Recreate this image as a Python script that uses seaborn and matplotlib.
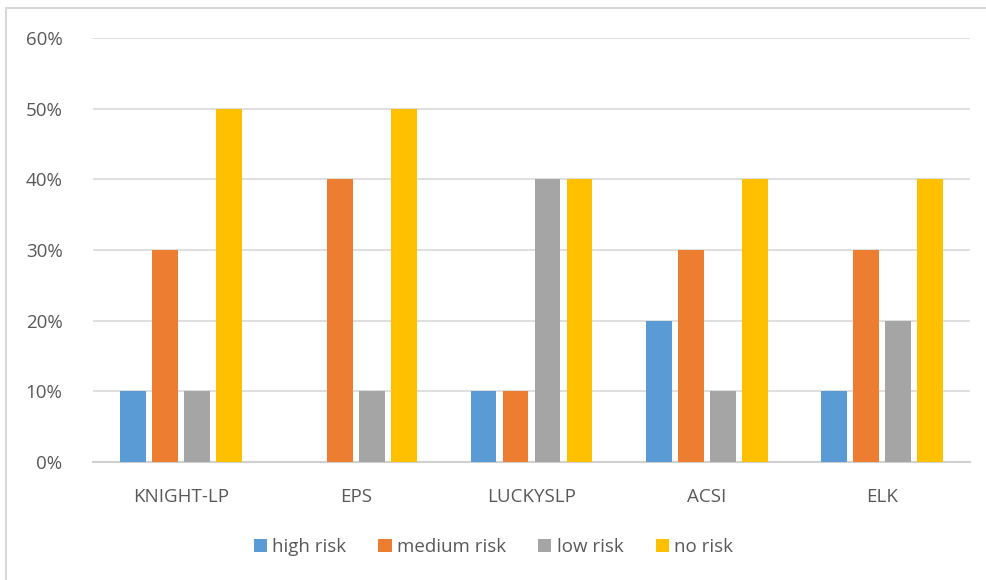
import matplotlib
matplotlib.use("Agg")
import matplotlib.pyplot as plt
import matplotlib.patches as mpatches
import seaborn as sns
import pandas as pd
from matplotlib.ticker import PercentFormatter

# Risk distribution per site
sites = ["KNIGHT-LP", "EPS", "LUCKYSLP", "ACSI", "ELK"]
risk_levels = ["high risk", "medium risk", "low risk", "no risk"]
high_risk = [0.10, 0.00, 0.10, 0.20, 0.10]
medium_risk = [0.30, 0.40, 0.10, 0.30, 0.30]
low_risk = [0.10, 0.10, 0.40, 0.10, 0.20]
no_risk = [0.50, 0.50, 0.40, 0.40, 0.40]
y_ticks = [0.0, 0.1, 0.2, 0.3, 0.4, 0.5, 0.6]

palette = ["#5B9BD5", "#ED7D31", "#A5A5A5", "#FFC000"]
text_color = "#595959"

rows = []
for level, values in zip(risk_levels, [high_risk, medium_risk, low_risk, no_risk]):
    for site, v in zip(sites, values):
        rows.append({"site": site, "risk": level, "share": v})
df = pd.DataFrame(rows)

sns.set_theme(style="white")
plt.rcParams["font.family"] = ["Open Sans", "DejaVu Sans"]

W, H = 987, 580
fig = plt.figure(figsize=(W / 100, H / 100), dpi=100)
ax = fig.add_axes([93 / W, 1 - 462 / H, (970 - 93) / W, (462 - 38) / H])

sns.barplot(data=df, x="site", y="share", hue="risk", order=sites,
            hue_order=risk_levels, palette=palette, width=0.73, gap=0.19,
            saturation=1, errorbar=None, linewidth=0, ax=ax, zorder=3)

ax.set_ylim(0, 0.6)
ax.set_xlim(-0.5, len(sites) - 0.5)
ax.set_yticks(y_ticks)
ax.yaxis.set_major_formatter(PercentFormatter(1.0, decimals=0))
ax.grid(axis="y", color="#D9D9D9", linewidth=1.2, zorder=0)
ax.grid(axis="x", visible=False)
for side in ["top", "right", "left"]:
    ax.spines[side].set_visible(False)
ax.spines["bottom"].set_color("#D0D0D0")
ax.spines["bottom"].set_linewidth(1.5)
ax.set_xlabel("")
ax.set_ylabel("")
ax.tick_params(axis="y", length=0, pad=22, labelsize=13.5, labelcolor=text_color)
ax.tick_params(axis="x", length=0, pad=19, labelsize=13.5, labelcolor=text_color)

leg = ax.legend(loc="center", bbox_to_anchor=(0.5, 1 - 547 / H), bbox_transform=fig.transFigure,
                ncol=4, frameon=False, fontsize=13.5, handlelength=0.7, handleheight=0.7,
                handletextpad=0.3, columnspacing=1.7)
for t in leg.get_texts():
    t.set_color(text_color)

# Chart area border
fig.patches.append(mpatches.Rectangle((6 / W, -0.05), 1.1, 1 - 8 / H + 0.05,
                                      transform=fig.transFigure, fill=False,
                                      edgecolor="#D9D9D9", linewidth=1.5))

fig.savefig("out.png", dpi=100)
